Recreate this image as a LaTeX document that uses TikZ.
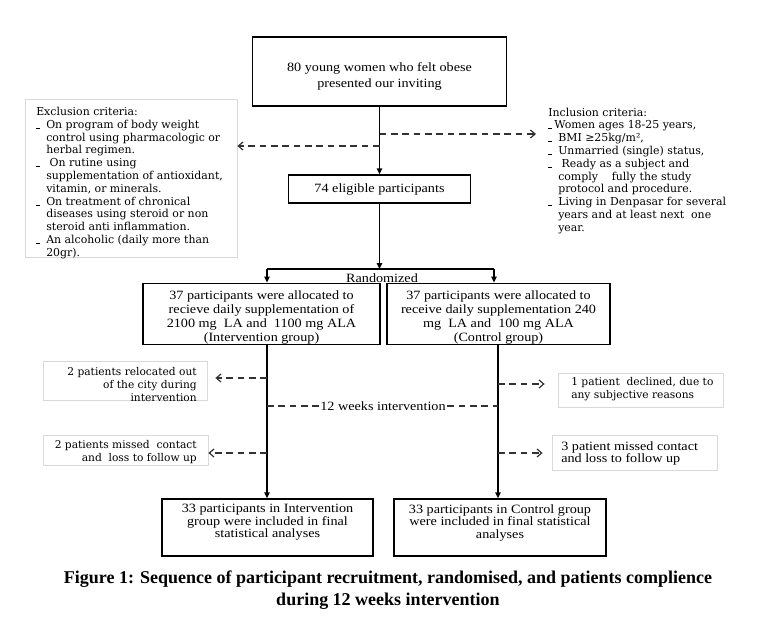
\documentclass[tikz,border=0pt]{standalone}
\usepackage{fontspec}
\setmainfont{Liberation Serif}
\newfontfamily\bxf[FakeStretch=1.12]{Liberation Serif}
\newfontfamily\cent{DejaVu Serif}
\usetikzlibrary{arrows.meta}
\newcommand{\exbul}{\makebox[7.5pt][l]{\rule[-0.2pt]{3pt}{0.6pt}}}
\newcommand{\exind}{\hspace*{7.5pt}}
\begin{document}
\begin{tikzpicture}[x=0.75pt,y=-0.75pt,
  mainbox/.style={draw=black, line width=1.1pt, fill=white, align=center, inner sep=0pt, font=\bxf\fontsize{9.5}{10.5}\selectfont},
  sidebox/.style={draw=black!15, line width=0.6pt, fill=white, inner sep=0pt},
  solidarrow/.style={line width=1.1pt, -{Triangle[length=4.5pt,width=4pt]}},
  solidline/.style={line width=1.1pt},
  dashline/.style={line width=0.9pt, draw=black!80, dash pattern=on 5pt off 3.5pt},
  dasharrow/.style={dashline, -{Straight Barb[length=3.5pt,width=6pt]}},
  centsmall/.style={inner sep=0pt, font=\cent\fontsize{8}{9.75}\selectfont},
  centlist/.style={inner sep=0pt, font=\cent\fontsize{8.2}{9.6}\selectfont},
  txt/.style={inner sep=0pt, font=\bxf\fontsize{9.5}{10.5}\selectfont}
]
\path[fill=white, use as bounding box] (0,0) rectangle (757,633);

% main boxes
\node[mainbox, minimum width=190.5pt, minimum height=51.75pt, font=\bxf\fontsize{9.5}{12}\selectfont] (top) at (379.5,71.5) {\rule{0pt}{14.5pt}80 young women who felt obese\\presented our inviting};
\node[mainbox, minimum width=136.5pt, minimum height=21pt] (elig) at (379.5,189) {74 eligible participants};
\node[mainbox, minimum width=177.75pt, minimum height=43.5pt] (ib) at (261.5,314) {\rule{0pt}{12.5pt}37 participants were allocated to\\recieve daily supplementation of\\2100 mg~~LA and~~1100 mg ALA\\(Intervention group)};
\node[mainbox, minimum width=167.25pt, minimum height=43.5pt] (cb) at (498.5,314) {\rule{0pt}{12.5pt}37 participants were allocated to\\receive daily supplementation 240\\mg~~LA and~~100 mg ALA\\(Control group)};
\node[mainbox, minimum width=158.25pt, minimum height=42.75pt, font=\bxf\fontsize{9.5}{9.4}\selectfont] (fl) at (267.5,527.5) {33 participants in Intervention\\group were included in final\\statistical analyses\\ \mbox{}};
\node[mainbox, minimum width=159pt, minimum height=42.75pt, font=\bxf\fontsize{9.5}{9.4}\selectfont] (fr) at (500,527.5) {33 participants in Control group\\were included in final statistical\\analyses\\ \mbox{}};

% criteria
\node[sidebox, minimum width=159pt, minimum height=118.5pt] (exc) at (131,178) {};
\node[anchor=north west, align=left, centlist] (exct) at (36,107) {Exclusion criteria:\\
\exbul On program of body weight\\
\exind control using pharmacologic or\\
\exind herbal regimen.\\
\exbul\ On rutine using\\
\exind supplementation of antioxidant,\\
\exind vitamin, or minerals.\\
\exbul On treatment of chronical\\
\exind diseases using steroid or non\\
\exind steroid anti inflammation.\\
\exbul An alcoholic (daily more than\\
\exind 20gr).};
\node[anchor=north west, align=left, centlist] (inc) at (548,107.5) {Inclusion criteria:\\
\rule[-0.2pt]{3pt}{0.6pt}\hspace{1.5pt}Women ages 18-25 years,\\
\exbul BMI ≥25kg/m²,\\
\exbul Unmarried (single) status,\\
\exbul\ Ready as a subject and\\
\exind comply\ \ \ \ fully the study\\
\exind protocol and procedure.\\
\exbul Living in Denpasar for several\\
\exind years and at least next\ \ one\\
\exind year.};

% side boxes
\node[sidebox, minimum width=123pt, minimum height=29.25pt] (rel) at (125,380.5) {};
\node[centsmall, anchor=east, align=right] (relt) at (197,385) {2 patients relocated out\\of the city during\\intervention};
\node[sidebox, minimum width=123.75pt, minimum height=22.5pt] (missl) at (125.5,450) {};
\node[centsmall, anchor=east, align=right] (misslt) at (197,452) {2 patients missed\ \ contact\\and\ \ loss to follow up};
\node[sidebox, minimum width=123.75pt, minimum height=25.5pt] (decl) at (640.5,390) {};
\node[centsmall, anchor=west, align=left] (declt) at (571,389.5) {1 patient\ \ declined, due to\\any subjective reasons};
\node[sidebox, minimum width=123.75pt, minimum height=26.25pt] (missr) at (634.5,452.5) {};
\node[inner sep=0pt, font=\bxf\fontsize{9.5}{9}\selectfont, anchor=west, align=left] (missrt) at (561,453) {3 patient missed contact\\and loss to follow up};

% coordinates on connectors
\coordinate (er) at (379.5,134);
\coordinate (ertip) at (536,134);
\coordinate (el) at (379.5,146);
\coordinate (brc) at (379.5,269);
\coordinate (brl) at (267,269);
\coordinate (brr) at (494,269);
\coordinate (xl) at (267,0);
\coordinate (xr) at (498,0);
\coordinate (a1) at (267,378);
\coordinate (a2) at (267,453);
\coordinate (a3) at (498,384);
\coordinate (a4) at (498,453);
\coordinate (w1) at (267,406);
\coordinate (w2) at (498,406);

% connectors
\draw[solidarrow] (top.south) -- (elig.north);
\draw[dasharrow] (er) -- (ertip);
\draw[dasharrow] (el) -- (el -| exc.east);
\draw[solidarrow] (elig.south) -- (brc);
\draw[solidline] (brl) -- (brr);
\draw[solidarrow] (brl) -- (brl |- ib.north);
\draw[solidarrow] (brr) -- (brr |- cb.north);
\node[txt] (rand) at (382,278) {Randomized};
\draw[solidarrow] (xl |- ib.south) -- (xl |- fl.north);
\draw[solidarrow] (xr |- cb.south) -- (xr |- fr.north);
\draw[dasharrow, shorten >=6pt] (a1) -- (a1 -| rel.east);
\draw[dasharrow] (a2) -- (a2 -| missl.east);
\draw[dasharrow, shorten >=9.75pt] (a3) -- (a3 -| decl.west);
\draw[dasharrow, shorten >=6.75pt] (a4) -- (a4 -| missr.west);
\node[txt, fill=white, inner xsep=1pt] (wk) at (383,406) {12 weeks intervention};
\draw[dashline] (w1) -- (wk.west);
\draw[dashline] (wk.east) -- (w2);

% caption
\node[align=center, inner sep=0pt, font=\bfseries\fontsize{13.5}{16.5}\selectfont] (cap) at (388,590) {Figure 1: Sequence of participant recruitment, randomised, and patients complience\\during 12 weeks intervention};
\end{tikzpicture}
\end{document}
